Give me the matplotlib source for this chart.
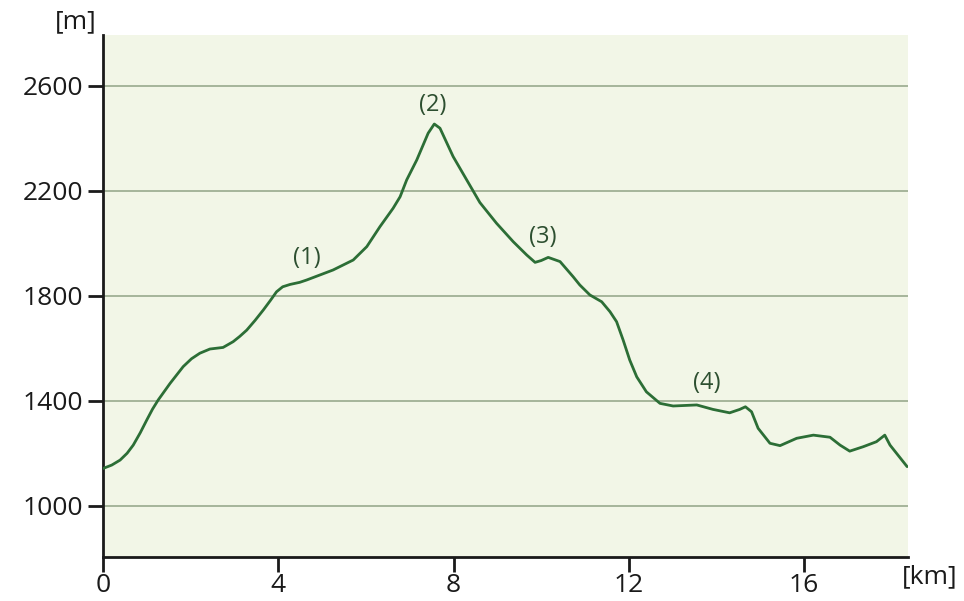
import matplotlib
matplotlib.use("Agg")
import matplotlib.pyplot as plt

dist_km = [0.0, 0.2, 0.39, 0.55, 0.69, 0.85, 1.0, 1.13, 1.26, 1.53, 1.83, 2.02, 2.21, 2.44,
           2.74, 2.97, 3.12, 3.28, 3.47, 3.66, 3.82, 3.96, 4.1, 4.27, 4.49,
           4.65, 5.25, 5.71, 6.02, 6.32, 6.62, 6.78, 6.93, 7.16, 7.42, 7.56,
           7.69, 7.99, 8.30, 8.60, 8.98, 9.36, 9.67, 9.86, 10.0, 10.16, 10.43, 10.73,
           10.88, 11.11, 11.38, 11.57, 11.72, 11.87, 12.02, 12.18, 12.40, 12.71, 13.01,
           13.55, 13.92, 14.30, 14.53, 14.66, 14.80, 14.95, 15.22, 15.45, 15.83, 16.21,
           16.59, 16.82, 17.04, 17.35, 17.65, 17.84, 17.96, 18.35]
elev_m = [1142, 1155, 1174, 1200, 1231, 1278, 1327, 1368, 1403, 1466, 1530, 1560, 1581, 1597,
          1603, 1625, 1645, 1669, 1706, 1746, 1782, 1815, 1834, 1843, 1851,
          1860, 1898, 1936, 1987, 2063, 2133, 2177, 2241, 2317, 2419, 2454,
          2438, 2330, 2241, 2155, 2076, 2006, 1955, 1927, 1934, 1946, 1930, 1872,
          1841, 1803, 1777, 1739, 1701, 1631, 1555, 1491, 1434, 1390, 1380,
          1384, 1367, 1354, 1367, 1377, 1358, 1295, 1238, 1229, 1257, 1269,
          1261, 1231, 1208, 1225, 1244, 1269, 1231, 1149]

x_ticks = [0, 4, 8, 12, 16]
y_ticks = [1000, 1400, 1800, 2200, 2600]

marker_labels = ["(1)", "(2)", "(3)", "(4)"]
marker_x = [4.66, 7.53, 10.04, 13.78]
marker_y = [1943, 2526, 2024, 1467]

font = ["Open Sans", "DejaVu Sans"]
plt.rcParams["font.family"] = font

fig = plt.figure(figsize=(9.64, 6.01), dpi=100)
ax = fig.add_axes([103/964, 1 - 556.7/601, (908 - 103)/964, (556.7 - 35)/601])
ax.set_facecolor("#f2f6e7")
ax.set_xlim(0, 18.37)
ax.set_ylim(806, 2793)

for yv in y_ticks:
    ax.axhline(yv, color="#9fb095", lw=1.3, zorder=1)

ax.plot(dist_km, elev_m, color="#2c6e36", lw=2.0, zorder=3,
        solid_joinstyle="round", solid_capstyle="round")

for lab, xv, yv in zip(marker_labels, marker_x, marker_y):
    ax.text(xv, yv, lab, ha="center", va="center", fontsize=17, color="#2d4f30", zorder=4)

for s in ["top", "right"]:
    ax.spines[s].set_visible(False)
for s in ["left", "bottom"]:
    ax.spines[s].set_linewidth(2.0)
    ax.spines[s].set_color("#1a1a1a")

ax.set_xticks(x_ticks)
ax.set_yticks(y_ticks)
ax.set_xticklabels([str(v) for v in x_ticks])
ax.set_yticklabels([str(v) for v in y_ticks])
ax.tick_params(axis="both", direction="out", length=11, width=2.0, color="#1a1a1a",
               labelsize=19, labelcolor="#1a1a1a")
ax.tick_params(axis="y", pad=3)
ax.tick_params(axis="x", pad=1)

fig.text(97/964, 1 - 22/601, "[m]", ha="right", va="center", fontsize=19, color="#1a1a1a")
fig.text(930/964, 1 - 577/601, "[km]", ha="center", va="center", fontsize=19, color="#1a1a1a")

fig.savefig("out.png", dpi=100)
